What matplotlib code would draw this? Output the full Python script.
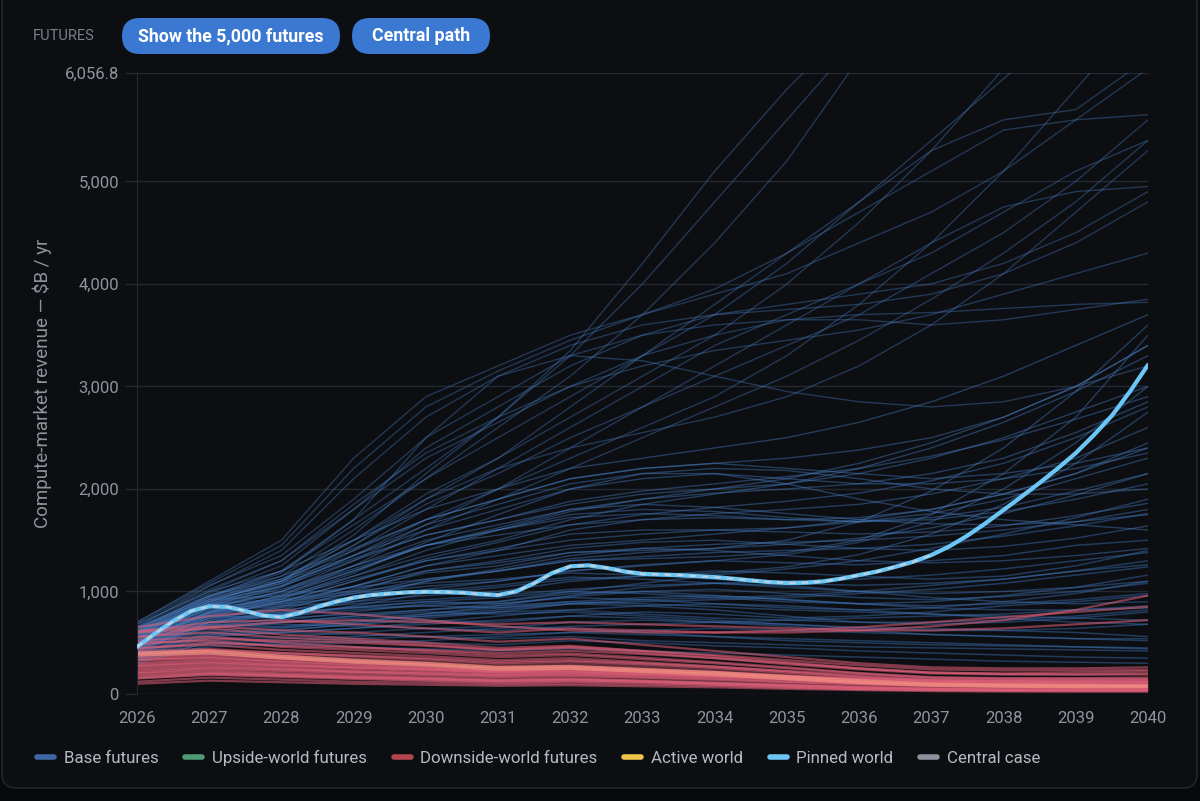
import matplotlib
matplotlib.use('Agg')
import matplotlib.pyplot as plt
from matplotlib.lines import Line2D
from matplotlib.patches import FancyBboxPatch
from matplotlib.ticker import FuncFormatter
from matplotlib.transforms import IdentityTransform

plt.rcParams['font.family'] = ['Roboto', 'DejaVu Sans']

YEARS = list(range(2026, 2041))
Y_TOP = 6056.8

# pinned world, read at quarter-year steps
pinned_x = [2026 + i * 0.25 for i in range(57)]
pinned_vals = [459, 590, 710, 810, 855, 850, 810, 765, 750, 790, 850, 900, 940, 965, 980,
               992, 997, 995, 988, 975, 965, 1000, 1080, 1180, 1245, 1255, 1230, 1195,
               1172, 1165, 1160, 1150, 1140, 1125, 1108, 1092, 1083, 1085, 1098, 1125,
               1160, 1195, 1240, 1290, 1355, 1440, 1545, 1665, 1795, 1925, 2060, 2200,
               2350, 2525, 2715, 2950, 3210]
# central case sits on the pinned path until 2037
central_x = pinned_x[:45]
central_vals = pinned_vals[:45]

# base futures (a sample of the drawn paths), one value per year 2026..2040
base_low = [
    [420, 640, 700, 760, 820, 860, 900, 880, 850, 820, 800, 780, 760, 740, 720],
    [380, 560, 600, 580, 560, 540, 560, 520, 500, 480, 460, 450, 440, 430, 420],
    [500, 720, 780, 850, 900, 880, 950, 1000, 1020, 980, 940, 920, 950, 1000, 1080],
    [450, 680, 650, 700, 760, 820, 880, 860, 820, 760, 700, 680, 700, 740, 800],
    [350, 520, 540, 560, 600, 640, 700, 720, 700, 680, 650, 640, 620, 600, 560],
    [560, 800, 860, 900, 960, 1000, 1100, 1150, 1200, 1180, 1150, 1120, 1150, 1250, 1400],
    [400, 600, 620, 680, 720, 700, 760, 800, 780, 740, 760, 800, 860, 900, 960],
    [300, 480, 500, 520, 500, 480, 520, 500, 470, 450, 420, 400, 380, 360, 350],
    [620, 860, 900, 980, 1050, 1100, 1200, 1250, 1300, 1280, 1260, 1300, 1350, 1450, 1500],
    [470, 700, 720, 800, 880, 900, 980, 1000, 960, 920, 880, 860, 880, 920, 980],
    [360, 540, 560, 600, 640, 660, 640, 600, 560, 520, 500, 480, 470, 460, 450],
    [520, 760, 740, 780, 820, 880, 940, 920, 880, 840, 820, 840, 900, 980, 1100],
    [430, 620, 660, 720, 760, 800, 820, 780, 740, 720, 700, 700, 720, 760, 820],
    [580, 820, 880, 940, 1000, 1060, 1140, 1120, 1080, 1040, 1000, 980, 1000, 1040, 1100],
    [330, 500, 480, 500, 520, 560, 600, 620, 640, 620, 600, 580, 560, 540, 520],
    [480, 700, 760, 820, 860, 840, 880, 900, 920, 940, 980, 1020, 1080, 1160, 1240],
    [400, 580, 600, 640, 680, 720, 760, 740, 700, 660, 620, 580, 560, 540, 540],
    [540, 780, 820, 880, 920, 960, 1020, 1060, 1080, 1100, 1120, 1160, 1220, 1300, 1380],
    [450, 650, 680, 660, 640, 620, 660, 680, 700, 720, 740, 760, 780, 820, 860],
    [370, 560, 600, 640, 700, 760, 820, 860, 880, 860, 820, 780, 740, 700, 680],
    [600, 880, 920, 1000, 1080, 1120, 1180, 1160, 1120, 1080, 1060, 1080, 1120, 1200, 1300],
    [320, 460, 480, 460, 440, 420, 440, 420, 400, 380, 360, 340, 320, 310, 300],
    [500, 740, 780, 840, 900, 940, 1000, 980, 940, 900, 880, 900, 960, 1040, 1160],
    [440, 660, 700, 760, 800, 780, 800, 760, 720, 680, 640, 620, 620, 640, 680],
    [390, 580, 620, 680, 740, 800, 880, 920, 940, 960, 1000, 1060, 1120, 1200, 1260],
    [650, 920, 960, 1040, 1120, 1200, 1300, 1340, 1380, 1400, 1420, 1460, 1540, 1640, 1760],
    [340, 500, 520, 540, 560, 580, 600, 580, 560, 540, 520, 500, 480, 460, 440],
    [470, 680, 700, 740, 780, 840, 900, 940, 960, 920, 880, 840, 820, 820, 840],
    [410, 600, 640, 700, 780, 860, 960, 1040, 1080, 1060, 1000, 940, 900, 880, 900],
    [560, 760, 800, 840, 860, 900, 1000, 1080, 1160, 1220, 1300, 1420, 1560, 1720, 1900],
]
base_mid = [
    [480, 760, 900, 1100, 1300, 1400, 1500, 1560, 1600, 1620, 1680, 1760, 1900, 2100, 2300],
    [550, 840, 1000, 1250, 1450, 1550, 1650, 1700, 1720, 1700, 1680, 1720, 1820, 1980, 2150],
    [420, 700, 820, 1000, 1200, 1300, 1420, 1480, 1500, 1460, 1420, 1400, 1440, 1520, 1640],
    [600, 900, 1050, 1300, 1550, 1700, 1850, 1950, 2000, 2050, 2150, 2300, 2500, 2750, 3000],
    [500, 780, 880, 1050, 1250, 1400, 1600, 1700, 1760, 1800, 1850, 1950, 2100, 2300, 2600],
    [460, 720, 850, 1020, 1180, 1250, 1380, 1420, 1400, 1350, 1300, 1280, 1300, 1350, 1420],
    [640, 960, 1120, 1400, 1700, 1900, 2100, 2200, 2250, 2200, 2150, 2100, 2150, 2250, 2400],
    [520, 820, 950, 1150, 1350, 1500, 1700, 1850, 1950, 2050, 2200, 2400, 2650, 2950, 3300],
    [440, 700, 800, 950, 1100, 1200, 1320, 1380, 1420, 1460, 1520, 1620, 1760, 1940, 2150],
    [580, 880, 1020, 1250, 1500, 1650, 1800, 1850, 1820, 1760, 1700, 1660, 1650, 1680, 1750],
    [500, 780, 920, 1150, 1400, 1600, 1780, 1900, 2000, 2100, 2250, 2450, 2700, 3000, 3400],
    [620, 940, 1100, 1350, 1600, 1800, 2000, 2100, 2150, 2100, 2050, 2050, 2100, 2200, 2350],
    [460, 740, 860, 1050, 1250, 1350, 1450, 1500, 1560, 1620, 1700, 1800, 1950, 2150, 2400],
    [540, 840, 980, 1200, 1450, 1600, 1750, 1800, 1780, 1720, 1680, 1700, 1780, 1900, 2050],
    [680, 1000, 1200, 1500, 1800, 2000, 2200, 2300, 2400, 2500, 2650, 2850, 3100, 3400, 3700],
    [430, 680, 780, 920, 1100, 1220, 1350, 1420, 1460, 1480, 1500, 1540, 1600, 1680, 1800],
    [560, 860, 1000, 1220, 1450, 1600, 1720, 1760, 1740, 1700, 1720, 1800, 1950, 2150, 2450],
    [600, 920, 1080, 1320, 1550, 1700, 1880, 1980, 2050, 2120, 2200, 2320, 2480, 2680, 2900],
    [500, 800, 940, 1120, 1300, 1420, 1560, 1600, 1600, 1580, 1560, 1580, 1640, 1740, 1860],
    [470, 760, 900, 1100, 1320, 1480, 1650, 1750, 1820, 1880, 1960, 2080, 2250, 2500, 2800],
    [520, 800, 960, 1200, 1450, 1620, 1800, 1900, 1960, 2000, 2050, 2150, 2300, 2550, 2850],
    [640, 960, 1150, 1420, 1700, 1900, 2100, 2200, 2250, 2300, 2380, 2500, 2700, 3000, 3400],
    [480, 740, 840, 980, 1120, 1200, 1300, 1320, 1340, 1380, 1500, 1750, 2150, 2700, 3500],
    [450, 700, 780, 900, 1020, 1100, 1200, 1260, 1300, 1360, 1480, 1680, 2000, 2450, 3000],
    [520, 800, 900, 1050, 1200, 1280, 1380, 1400, 1420, 1500, 1680, 1980, 2400, 2950, 3600],
    [420, 660, 740, 860, 980, 1040, 1120, 1150, 1180, 1240, 1360, 1560, 1850, 2250, 2750],
    [590, 880, 1060, 1350, 1650, 1850, 2050, 2150, 2150, 2050, 1900, 1780, 1700, 1650, 1600],
    [510, 790, 930, 1180, 1480, 1750, 2000, 2150, 2200, 2180, 2100, 2000, 1950, 1950, 2000],
]
base_high = [
    [700, 1100, 1500, 2300, 2900, 3200, 3500, 3700, 3900, 4100, 4400, 4700, 5100, 5600, 6100],
    [650, 1050, 1400, 2100, 2700, 3100, 3400, 3600, 3700, 3750, 3800, 3900, 4100, 4400, 4800],
    [620, 980, 1250, 1800, 2400, 2800, 3200, 3500, 3700, 3800, 3900, 4000, 4200, 4500, 4900],
    [580, 920, 1150, 1600, 2100, 2600, 3100, 3700, 4400, 5200, 6200, 7000, 7800, 8600, 9400],
    [600, 950, 1200, 1700, 2200, 2700, 3300, 4000, 4800, 5600, 6400, 7200, 8000, 8800, 9600],
    [560, 880, 1080, 1450, 1900, 2300, 2800, 3300, 3800, 4300, 4800, 5300, 5600, 5700, 6200],
    [540, 860, 1050, 1400, 1800, 2200, 2600, 3000, 3400, 3700, 4000, 4300, 4700, 5100, 5400],
    [520, 840, 1000, 1300, 1650, 2000, 2400, 2800, 3200, 3600, 4000, 4400, 4750, 4900, 4950],
    [680, 1060, 1350, 1900, 2500, 2900, 3300, 3500, 3600, 3650, 3650, 3600, 3650, 3750, 3850],
    [600, 920, 1100, 1500, 1950, 2300, 2700, 3100, 3500, 4000, 4600, 5300, 6100, 6900, 7700],
    [560, 900, 1100, 1450, 1850, 2150, 2500, 2800, 3100, 3400, 3700, 4100, 4500, 5000, 5600],
    [640, 1000, 1300, 1800, 2300, 2650, 3000, 3300, 3500, 3650, 3700, 3720, 3760, 3800, 3820],
    [500, 800, 960, 1250, 1600, 1900, 2200, 2500, 2800, 3100, 3450, 3850, 4300, 4800, 5400],
    [620, 960, 1200, 1650, 2100, 2500, 2900, 3300, 3700, 4200, 4800, 5400, 6000, 6600, 7200],
    [580, 900, 1120, 1500, 1900, 2200, 2400, 2550, 2700, 2900, 3200, 3600, 4100, 4700, 5300],
    [540, 860, 1040, 1350, 1700, 2000, 2300, 2600, 2900, 3300, 3800, 4400, 5100, 5900, 6700],
    [700, 1080, 1450, 2200, 2800, 3150, 3450, 3700, 3950, 4300, 4700, 5100, 5500, 5600, 5650],
    [660, 1020, 1300, 1850, 2350, 2700, 3000, 3200, 3350, 3450, 3550, 3700, 3900, 4100, 4300],
    [610, 940, 1180, 1700, 2500, 3100, 3300, 3250, 3100, 2950, 2850, 2800, 2850, 3000, 3200],
    [570, 900, 1100, 1550, 2150, 2700, 3350, 4200, 5100, 5900, 6600, 7200, 7800, 8400, 9000],
]

# downside-world futures
downside = [
    [300, 330, 290, 260, 240, 210, 220, 200, 180, 150, 120, 100, 95, 90, 90],
    [250, 280, 250, 220, 200, 180, 190, 170, 150, 120, 100, 80, 75, 70, 70],
    [200, 230, 200, 180, 160, 140, 150, 130, 110, 90, 70, 55, 50, 50, 50],
    [150, 190, 170, 150, 130, 110, 120, 110, 90, 70, 50, 40, 35, 35, 35],
    [500, 520, 460, 430, 400, 360, 380, 340, 300, 250, 200, 160, 150, 150, 150],
    [560, 600, 550, 520, 480, 430, 450, 400, 350, 290, 240, 200, 190, 190, 200],
    [620, 660, 620, 600, 560, 510, 540, 480, 420, 360, 300, 260, 250, 250, 260],
    [340, 360, 320, 290, 260, 230, 240, 220, 200, 170, 140, 120, 110, 105, 100],
    [120, 160, 140, 120, 110, 95, 100, 90, 80, 60, 45, 35, 30, 30, 30],
    [280, 310, 280, 260, 240, 220, 240, 220, 200, 170, 150, 130, 125, 125, 130],
    [450, 480, 430, 400, 370, 330, 350, 310, 270, 220, 170, 130, 120, 115, 115],
    [180, 210, 185, 165, 150, 130, 140, 125, 105, 85, 65, 50, 45, 45, 45],
    [230, 260, 240, 220, 205, 185, 200, 185, 165, 140, 115, 95, 90, 88, 88],
    [420, 440, 400, 370, 340, 300, 320, 290, 255, 210, 165, 135, 125, 120, 120],
    [600, 640, 580, 540, 500, 450, 470, 420, 370, 310, 250, 210, 200, 210, 220],
    [330, 350, 310, 280, 250, 220, 225, 200, 175, 145, 115, 90, 80, 75, 72],
    [100, 130, 115, 100, 90, 80, 85, 75, 65, 50, 38, 28, 24, 22, 22],
    [270, 300, 270, 245, 225, 200, 210, 190, 170, 140, 110, 90, 85, 82, 80],
    [480, 540, 520, 500, 470, 430, 460, 420, 380, 330, 280, 240, 230, 230, 235],
    [360, 380, 345, 315, 285, 255, 265, 240, 215, 180, 145, 120, 112, 110, 110],
    [160, 200, 180, 160, 145, 125, 135, 120, 100, 80, 60, 48, 42, 40, 40],
    [210, 250, 225, 205, 185, 165, 175, 160, 140, 115, 95, 75, 70, 68, 66],
    [520, 560, 500, 460, 420, 380, 395, 355, 310, 260, 205, 165, 155, 155, 160],
    [650, 760, 820, 780, 720, 660, 620, 600, 600, 620, 650, 700, 750, 800, 850],
    [600, 700, 720, 680, 640, 600, 640, 620, 600, 600, 620, 660, 720, 820, 960],
    [550, 650, 700, 720, 700, 680, 700, 680, 660, 640, 620, 620, 640, 680, 720],
    [440, 500, 470, 450, 430, 400, 420, 390, 350, 300, 250, 210, 195, 190, 190],
    [390, 430, 400, 375, 350, 315, 330, 300, 265, 225, 185, 150, 140, 138, 140],
]
# brighter core of the downside bundle
downside_bright = [
    [400, 420, 370, 330, 300, 260, 270, 240, 210, 170, 130, 100, 90, 85, 80],
    [380, 400, 350, 310, 280, 240, 250, 220, 190, 150, 110, 85, 75, 70, 70],
]
core_lo = [150, 180, 160, 140, 125, 110, 115, 100, 85, 65, 45, 35, 30, 30, 30]
core_hi = [420, 440, 400, 370, 340, 300, 320, 290, 255, 210, 170, 150, 150, 150, 150]

legend_labels = ["Base futures", "Upside-world futures", "Downside-world futures",
                 "Active world", "Pinned world", "Central case"]
legend_colors = ["#3e68a3", "#4f9a74", "#b5454e", "#f0c64a", "#6cc6f5", "#8d939e"]

BG_OUT = "#08090c"
BG = "#0c0e12"
GRID = "#242830"
TXT = "#8f949d"
W, H = 1200, 801

fig = plt.figure(figsize=(12, 8.01), dpi=100, facecolor=BG_OUT)
px = IdentityTransform()

# panel (pixel coords, origin bottom-left); top runs off the image
panel = FancyBboxPatch((2, H - 788), 1195, 900, boxstyle="round,pad=0,rounding_size=14",
                       transform=px, facecolor=BG, edgecolor="#22252c",
                       linewidth=1.2, zorder=-5)
fig.patches.append(panel)

# header row
fig.text(33 / W, 1 - 36 / H, "FUTURES", color="#7b818a", fontsize=10.5,
         va="center", ha="left")
buttons = [("Show the 5,000 futures", 122, 340), ("Central path", 352, 490)]
for label, x0, x1 in buttons:
    btn = FancyBboxPatch((x0, H - 54), x1 - x0, 36, boxstyle="round,pad=0,rounding_size=18",
                         transform=px, facecolor="#3a78d2", edgecolor="none", zorder=1)
    fig.patches.append(btn)
    fig.text((x0 + x1) / 2 / W, 1 - 36 / H, label, color="white",
             fontsize=12.8, fontweight="bold", ha="center", va="center", zorder=2)

ax = fig.add_axes([137 / W, 107 / H, 1011 / W, 621 / H])
ax.set_zorder(3)
ax.set_facecolor(BG)

for vals in base_high:
    ax.plot(YEARS, vals, color="#4a7dc0", lw=1.0, alpha=0.38)
for vals in base_mid:
    ax.plot(YEARS, vals, color="#4a7fc4", lw=1.0, alpha=0.42)
for vals in base_low:
    ax.plot(YEARS, vals, color="#3f72b5", lw=1.1, alpha=0.45)

ax.fill_between(YEARS, core_lo, core_hi, color="#e0607a", alpha=0.4, lw=0)
for vals in downside:
    ax.plot(YEARS, vals, color="#e0607a", lw=1.6, alpha=0.55)
for vals in downside_bright:
    ax.plot(YEARS, vals, color="#f08a80", lw=2.2, alpha=0.8)

ax.plot(pinned_x, pinned_vals, color="#6cc6f5", lw=3.0, solid_capstyle="round", zorder=5)
ax.plot(central_x, central_vals, color="#d0d5dc", lw=1.5, alpha=0.85,
        dashes=(3, 3), zorder=6)

ax.set_xlim(2026, 2040)
ax.set_ylim(0, Y_TOP)
ax.set_xticks(YEARS)
ax.set_yticks([0, 1000, 2000, 3000, 4000, 5000, Y_TOP])
ax.yaxis.set_major_formatter(FuncFormatter(
    lambda v, p: "6,056.8" if v > 6000 else f"{int(v):,}"))
ax.grid(axis="y", color=GRID, lw=1)
ax.set_axisbelow(True)
ax.tick_params(axis="x", length=0, pad=12, labelsize=12, labelcolor=TXT)
ax.tick_params(axis="y", length=9, width=1, color=GRID, pad=4, labelsize=12,
               labelcolor=TXT)
for side in ["top", "right", "bottom"]:
    ax.spines[side].set_visible(False)
ax.spines["left"].set_color(GRID)
ax.set_ylabel("Compute-market revenue — $B / yr", color=TXT, fontsize=13.5, labelpad=9)

handles = [Line2D([0], [0], color=c, lw=4, solid_capstyle="round") for c in legend_colors]
leg = fig.legend(handles, legend_labels, loc="center left",
                 bbox_to_anchor=(22 / W, 1 - 758 / H), ncol=6, frameon=False,
                 fontsize=12.2, handlelength=1.0, handletextpad=0.55, columnspacing=1.6)
for t in leg.get_texts():
    t.set_color("#b6bac3")

fig.savefig("out.png", dpi=100, facecolor=BG_OUT)
